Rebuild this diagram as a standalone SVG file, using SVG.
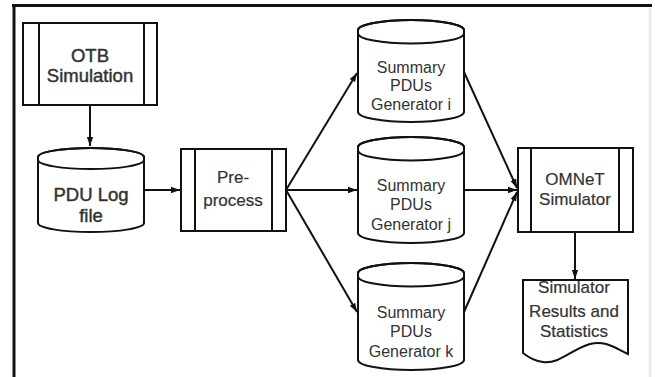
<svg xmlns="http://www.w3.org/2000/svg" width="655" height="377" viewBox="0 0 655 377">
<style>
.shape{fill:#fff;stroke:#111;stroke-width:2}
.ln{fill:none;stroke:#111;stroke-width:2}
.t{font-family:"Liberation Sans",Arial,sans-serif;fill:#333;text-anchor:middle}
.big{font-size:18.5px;stroke:#333;stroke-width:0.45}
.mid{font-size:17px;stroke:#333;stroke-width:0.2}
.sm{font-size:16px}
.edge{fill:none;stroke:#111;stroke-width:2;marker-end:url(#ah)}
</style>
<defs>
<marker id="ah" viewBox="0 0 10 10" refX="10" refY="5" markerWidth="4.5" markerHeight="4.5" orient="auto" markerUnits="strokeWidth">
<path d="M0,1.5 L10,5 L0,8.5 z" fill="#111"/>
</marker>
</defs>
<rect width="655" height="377" fill="#fff"/>
<g id="frame">
<line x1="12" y1="5.5" x2="652" y2="5.5" stroke="#111" stroke-width="3"/>
<line x1="14" y1="4" x2="14" y2="377" stroke="#111" stroke-width="3"/>
<line x1="650" y1="8" x2="650" y2="377" stroke="#ebebeb" stroke-width="3"/>
</g>
<g id="connectors">
<line class="edge" x1="90" y1="105" x2="90" y2="146"/>
<line class="edge" x1="144" y1="190" x2="180" y2="190"/>
<line class="edge" x1="286" y1="190" x2="357" y2="73"/>
<line class="edge" x1="286" y1="190" x2="357" y2="190"/>
<line class="edge" x1="286" y1="190" x2="357" y2="312"/>
<line class="edge" x1="464" y1="72" x2="517" y2="188"/>
<line class="edge" x1="464" y1="190" x2="517" y2="190"/>
<line class="edge" x1="464" y1="312" x2="517" y2="192"/>
<line class="edge" x1="575" y1="232" x2="575" y2="279"/>
</g>
<g id="otb">
<rect class="shape" x="23" y="23" width="134" height="82"/>
<line class="ln" x1="39" y1="23" x2="39" y2="105"/>
<line class="ln" x1="144" y1="23" x2="144" y2="105"/>
<text class="t big" x="90" y="62">OTB</text>
<text class="t big" x="90" y="82">Simulation</text>
</g>
<g id="pdulog">
<path class="shape" d="M38,157 L38,223 A53,9 0 0 0 144,223 L144,157 A53,9 0 0 0 38,157 Z"/>
<path class="ln" d="M38,157 A53,9 0 0 1 144,157"/>
<path class="ln" d="M38,160 A53,9 0 0 0 144,160"/>
<text class="t big" x="91" y="201">PDU Log</text>
<text class="t big" x="91" y="222">file</text>
</g>
<g id="preprocess">
<rect class="shape" x="181" y="149" width="105" height="82"/>
<line class="ln" x1="195" y1="149" x2="195" y2="231"/>
<line class="ln" x1="272" y1="149" x2="272" y2="231"/>
<text class="t mid" x="233" y="183">Pre-</text>
<text class="t mid" x="233" y="206">process</text>
</g>
<g id="geni">
<path class="shape" d="M358,30 L358,112 A53,10 0 0 0 464,112 L464,30 A53,10 0 0 0 358,30 Z"/>
<path class="ln" d="M358,30 A53,10 0 0 1 464,30"/>
<path class="ln" d="M358,33.5 A53,10 0 0 0 464,33.5"/>
<text class="t sm" x="411" y="73">Summary</text>
<text class="t sm" x="411" y="91">PDUs</text>
<text class="t sm" x="411" y="110">Generator i</text>
</g>
<g id="genj">
<path class="shape" d="M358,147 L358,233 A53,10 0 0 0 464,233 L464,147 A53,10 0 0 0 358,147 Z"/>
<path class="ln" d="M358,147 A53,10 0 0 1 464,147"/>
<path class="ln" d="M358,150.5 A53,10 0 0 0 464,150.5"/>
<text class="t sm" x="411" y="191">Summary</text>
<text class="t sm" x="411" y="210">PDUs</text>
<text class="t sm" x="411" y="230">Generator j</text>
</g>
<g id="genk">
<path class="shape" d="M358,273 L358,360 A53,10 0 0 0 464,360 L464,273 A53,10 0 0 0 358,273 Z"/>
<path class="ln" d="M358,273 A53,10 0 0 1 464,273"/>
<path class="ln" d="M358,276.5 A53,10 0 0 0 464,276.5"/>
<text class="t sm" x="411" y="318">Summary</text>
<text class="t sm" x="411" y="337">PDUs</text>
<text class="t sm" x="411" y="357">Generator k</text>
</g>
<g id="omnet">
<rect class="shape" x="518" y="148" width="115" height="84"/>
<line class="ln" x1="531" y1="148" x2="531" y2="232"/>
<line class="ln" x1="619" y1="148" x2="619" y2="232"/>
<text class="t mid" x="575" y="185">OMNeT</text>
<text class="t mid" x="575" y="205">Simulator</text>
</g>
<g id="results">
<path class="shape" d="M523,280 L628,280 L628,354 C615,348 605,340 590,344 C570,350 560,364 543,362 C535,361 528,357 523,353 Z"/>
<text class="t mid" x="574" y="293">Simulator</text>
<text class="t mid" x="574" y="317">Results and</text>
<text class="t mid" x="574" y="337">Statistics</text>
<line class="ln" x1="522" y1="280" x2="629" y2="280"/>
</g>
</svg>
